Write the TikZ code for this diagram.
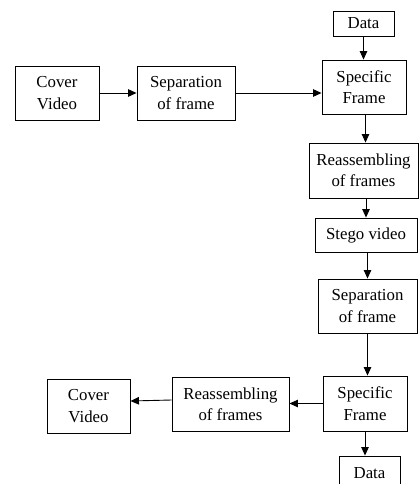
\documentclass[tikz,border=0pt]{standalone}
\usepackage{fontspec}
\setmainfont{Liberation Serif}
\usetikzlibrary{arrows.meta}
\begin{document}
\begin{tikzpicture}[x=1pt,y=-1pt,
  box/.style={draw,line width=0.9pt,align=center,inner sep=0pt,font=\fontsize{16.8}{21.5}\selectfont},
  arr/.style={line width=0.9pt,-{Triangle[length=8.5pt,width=7.5pt]}}]
\useasboundingbox (0,0) rectangle (419,484);
\clip (0,0) rectangle (419,484);
\node[box,minimum width=61pt,minimum height=25pt] (data1) at (363.5,23.5) {Data};
\node[box,minimum width=84pt,minimum height=54pt] (spec1) at (364,87) {Specific\\Frame};
\node[box,minimum width=84pt,minimum height=54pt] (cover1) at (57,93) {Cover\\Video};
\node[box,minimum width=98pt,minimum height=54pt] (sep1) at (186,93) {Separation\\of frame};
\node[box,minimum width=109pt,minimum height=55pt] (reass1) at (363.5,170.5) {Reassembling\\of frames};
\node[box,minimum width=102pt,minimum height=34pt] (stego) at (366,235) {Stego video};
\node[box,minimum width=99pt,minimum height=54pt] (sep2) at (367.5,306) {Separation\\of frame};
\node[box,minimum width=84pt,minimum height=55pt] (spec2) at (365,403.5) {Specific\\Frame};
\node[box,minimum width=117pt,minimum height=54pt] (reass2) at (230.5,404) {Reassembling\\of frames};
\node[box,minimum width=83pt,minimum height=54pt] (cover2) at (88.5,406) {Cover\\Video};
\node[box,minimum width=61pt,minimum height=38pt,text depth=0pt] (data2) at (369.5,475) {\raisebox{4pt}{Data}};
\draw[arr] (data1.south) -- (data1.south |- spec1.north);
\draw[arr] (cover1.east) -- (sep1.west);
\draw[arr] (sep1.east) -- (sep1.east -| spec1.west);
\draw[arr] ([xshift=1.5pt]spec1.south) -- ([xshift=1.5pt]spec1.south |- reass1.north);
\draw[arr] (reass1.south -| stego.north) -- (stego.north);
\draw[arr] (stego.south -| sep2.north) -- (sep2.north);
\draw[arr] (sep2.south) -- (sep2.south |- spec2.north);
\draw[arr] (spec2.west) -- (spec2.west -| reass2.east);
\draw[arr] ([yshift=4pt]reass2.west) -- ([yshift=5pt]cover2.east);
\draw[arr] (spec2.south) -- (spec2.south |- data2.north);
\end{tikzpicture}
\end{document}
